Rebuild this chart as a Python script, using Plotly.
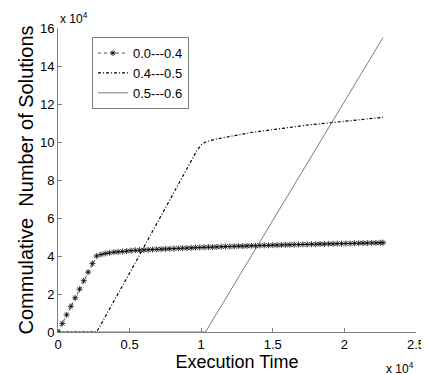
import plotly.graph_objects as go

# Series 1: 0.0---0.4
s1_x = [0, 300, 600, 900, 1200, 1500, 1800, 2100, 2400, 2700, 3000, 3300, 3600, 3900,
        4200, 4500, 4800, 5100, 5400, 5700, 6000, 6300, 6600, 6900, 7200, 7500, 7800,
        8100, 8400, 8700, 9000, 9300, 9600, 9900, 10200, 10500, 10800, 11100, 11400,
        11700, 12000, 12300, 12600, 12900, 13200, 13500, 13800, 14100, 14400, 14700,
        15000, 15300, 15600, 15900, 16200, 16500, 16800, 17100, 17400, 17700, 18000,
        18300, 18600, 18900, 19200, 19500, 19800, 20100, 20400, 20700, 21000, 21300,
        21600, 21900, 22200, 22500, 22700]
s1_y = [0.0, 0.45, 0.9, 1.35, 1.8, 2.25, 2.7, 3.15, 3.6, 4.0, 4.08, 4.13, 4.17, 4.2,
        4.22, 4.24, 4.26, 4.28, 4.3, 4.31, 4.32, 4.33, 4.34, 4.35, 4.36, 4.37, 4.38,
        4.39, 4.4, 4.41, 4.42, 4.43, 4.44, 4.45, 4.46, 4.47, 4.47, 4.48, 4.49, 4.5,
        4.5, 4.51, 4.52, 4.52, 4.53, 4.54, 4.54, 4.55, 4.56, 4.56, 4.57, 4.57, 4.58,
        4.59, 4.59, 4.6, 4.6, 4.61, 4.61, 4.62, 4.62, 4.63, 4.63, 4.64, 4.64, 4.65,
        4.65, 4.66, 4.66, 4.67, 4.67, 4.68, 4.68, 4.69, 4.69, 4.7, 4.7]

# Series 2: 0.4---0.5
s2_x = [0, 2700, 5000, 7500, 9700, 10000, 10300, 11000, 12000, 13500, 15500, 17500,
        19500, 21000, 22700]
s2_y = [0.0, 0.0, 3.1, 6.5, 9.55, 9.85, 10.0, 10.15, 10.3, 10.5, 10.7, 10.9,
        11.05, 11.18, 11.3]

# Series 3: 0.5---0.6
s3_x = [0, 10300, 22700]
s3_y = [0.0, 0.0, 15.5]

names = ["0.0---0.4", "0.4---0.5", "0.5---0.6"]
x_ticks = [0, 5000, 10000, 15000, 20000, 25000]
x_tick_labels = ["0", "0.5", "1", "1.5", "2", "2.5"]
y_ticks = [0, 2, 4, 6, 8, 10, 12, 14, 16]
y_tick_labels = ["0", "2", "4", "6", "8", "10", "12", "14", "16"]

FONT = "Liberation Sans, Arial, sans-serif"

fig = go.Figure()
fig.add_trace(go.Scatter(x=s1_x, y=s1_y, name=names[0], mode="lines+markers",
                         line=dict(color="#222222", width=0.8, dash="3px,3px"),
                         marker=dict(symbol="asterisk-open", size=5, color="black",
                                     line=dict(color="#222222", width=0.8))))
fig.add_trace(go.Scatter(x=s2_x, y=s2_y, name=names[1], mode="lines",
                         line=dict(color="black", width=1.2, dash="3px,2px,1px,2px")))
fig.add_trace(go.Scatter(x=s3_x, y=s3_y, name=names[2], mode="lines",
                         line=dict(color="#444444", width=0.7)))

axis_common = dict(showline=True, linecolor="#808080", linewidth=1, ticks="inside",
                   ticklen=4, tickcolor="#808080", showgrid=False, zeroline=False,
                   tickfont=dict(family=FONT, size=13, color="black"), mirror=False,
                   automargin=False)

# The page body adds an 8px offset, so the figure is sized to fit the 429x375 window.
fig.update_layout(
    width=421, height=367,
    margin=dict(l=50, r=13, t=20, b=43),
    paper_bgcolor="white", plot_bgcolor="white",
    font=dict(family=FONT, color="black"),
    xaxis=dict(range=[0, 25000], tickvals=x_ticks, ticktext=x_tick_labels,
               title=dict(text="Execution Time", font=dict(size=18), standoff=0),
               **axis_common),
    yaxis=dict(range=[0, 16], tickvals=y_ticks, ticktext=y_tick_labels,
               title=dict(text="Commulative  Number of Solutions", font=dict(size=20),
                          standoff=0),
               **axis_common),
    legend=dict(x=0.095, y=0.97, xanchor="left", yanchor="top",
                bordercolor="#808080", borderwidth=1, bgcolor="white",
                font=dict(family=FONT, size=13), tracegroupgap=0,
                itemwidth=30),
    showlegend=True,
    annotations=[
        dict(text="x 10<sup>4</sup>", x=0, y=1, xref="paper", yref="paper",
             xanchor="left", yanchor="bottom", showarrow=False,
             font=dict(family=FONT, size=12)),
        dict(text="x 10<sup>4</sup>", x=1, y=-0.085, xref="paper", yref="paper",
             xanchor="right", yanchor="top", showarrow=False,
             font=dict(family=FONT, size=12)),
    ],
)

fig.write_html("out.html")
